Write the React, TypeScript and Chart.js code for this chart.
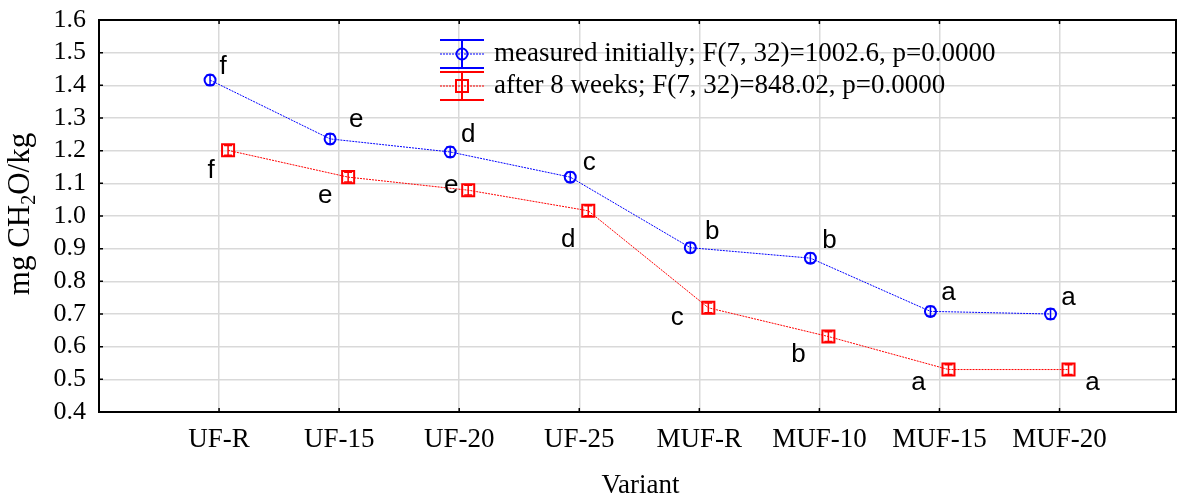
import React, { useEffect, useRef } from 'react';
import { Chart, registerables } from 'chart.js';

Chart.register(...registerables);

const categories = ['UF-R', 'UF-15', 'UF-20', 'UF-25', 'MUF-R', 'MUF-10', 'MUF-15', 'MUF-20'];
const initialValues = [1.416, 1.236, 1.196, 1.119, 0.903, 0.871, 0.708, 0.700];
const initialErrors = [0.015, 0.015, 0.015, 0.015, 0.015, 0.015, 0.015, 0.015];
const afterValues = [1.201, 1.119, 1.079, 1.016, 0.719, 0.631, 0.530, 0.530];
const afterErrors = [0.015, 0.015, 0.015, 0.015, 0.015, 0.015, 0.015, 0.015];
const initialLetters = ['f', 'e', 'd', 'c', 'b', 'b', 'a', 'a'];
const afterLetters = ['f', 'e', 'e', 'd', 'c', 'b', 'a', 'a'];
const legendLabels = [
  'measured initially; F(7, 32)=1002.6, p=0.0000',
  'after 8 weeks; F(7, 32)=848.02, p=0.0000',
];
const yMin = 0.4;
const yMax = 1.6;
const yStep = 0.1;
const xTitle = 'Variant';

const BLUE = '#0000ff';
const RED = '#ff0000';
const SERIF = '"Liberation Serif", "Times New Roman", serif';
const SANS = '"Liberation Sans", Arial, sans-serif';
const DODGE = 0.075;

// letter label offsets (px) relative to each marker
const initialLetterOffsets = [[13, -13], [26, -19], [18, -17], [19, -14], [22, -16], [19, -17], [18, -19], [18, -16]];
const afterLetterOffsets = [[-17, 20], [-23, 19], [-17, -4], [-20, 29], [-31, 10], [-30, 18], [-30, 13], [24, 13]];

const overlay = {
  id: 'overlay',
  afterDatasetsDraw(chart: any) {
    const { ctx, chartArea: a, scales } = chart;
    const x = scales.x;
    const y = scales.y;
    ctx.save();

    // error bars
    const errs = [initialErrors, afterErrors];
    chart.data.datasets.forEach((ds: any, di: number) => {
      const meta = chart.getDatasetMeta(di);
      meta.data.forEach((pt: any, i: number) => {
        const v = ds.data[i].y;
        const t = y.getPixelForValue(v + errs[di][i]);
        const b = y.getPixelForValue(v - errs[di][i]);
        ctx.strokeStyle = ds.borderColor;
        ctx.lineWidth = 1.5;
        ctx.beginPath();
        ctx.moveTo(pt.x, t);
        ctx.lineTo(pt.x, b);
        ctx.moveTo(pt.x - 4, t);
        ctx.lineTo(pt.x + 4, t);
        ctx.moveTo(pt.x - 4, b);
        ctx.lineTo(pt.x + 4, b);
        ctx.stroke();
      });
    });

    // letters
    ctx.fillStyle = '#000';
    ctx.font = `26px ${SANS}`;
    ctx.textAlign = 'center';
    ctx.textBaseline = 'middle';
    const letters = [initialLetters, afterLetters];
    const offs = [initialLetterOffsets, afterLetterOffsets];
    [0, 1].forEach((di) => {
      const meta = chart.getDatasetMeta(di);
      meta.data.forEach((pt: any, i: number) => {
        ctx.fillText(letters[di][i], pt.x + offs[di][i][0], pt.y + offs[di][i][1]);
      });
    });

    // frame
    ctx.strokeStyle = '#000';
    ctx.lineWidth = 2;
    ctx.strokeRect(a.left, a.top, a.right - a.left, a.bottom - a.top);
    ctx.lineWidth = 1.5;
    ctx.beginPath();
    categories.forEach((_, i) => {
      const px = x.getPixelForValue(i);
      ctx.moveTo(px, a.bottom);
      ctx.lineTo(px, a.bottom - 4);
      ctx.moveTo(px, a.top);
      ctx.lineTo(px, a.top + 4);
    });
    for (let v = yMin; v <= yMax + 1e-9; v += yStep) {
      const py = y.getPixelForValue(v);
      ctx.moveTo(a.left, py);
      ctx.lineTo(a.left + 4, py);
      ctx.moveTo(a.right, py);
      ctx.lineTo(a.right - 4, py);
    }
    ctx.stroke();

    // legend
    const colors = [BLUE, RED];
    const rows = [54, 86];
    const sx0 = 440;
    const sx1 = 484;
    const sxc = 462;
    rows.forEach((ry, k) => {
      const c = colors[k];
      ctx.strokeStyle = c;
      ctx.lineWidth = 2;
      ctx.setLineDash([]);
      ctx.beginPath();
      ctx.moveTo(sx0, ry - 14);
      ctx.lineTo(sx1, ry - 14);
      ctx.moveTo(sx0, ry + 14);
      ctx.lineTo(sx1, ry + 14);
      ctx.moveTo(sxc, ry - 14);
      ctx.lineTo(sxc, ry + 14);
      ctx.stroke();
      ctx.lineWidth = 1;
      ctx.setLineDash([2, 1]);
      ctx.beginPath();
      ctx.moveTo(sx0, ry);
      ctx.lineTo(sx1, ry);
      ctx.stroke();
      ctx.setLineDash([]);
      ctx.lineWidth = 2;
      ctx.beginPath();
      if (k === 0) {
        ctx.arc(sxc, ry, 5.5, 0, Math.PI * 2);
      } else {
        ctx.rect(sxc - 6, ry - 6, 12, 12);
      }
      ctx.stroke();
      ctx.fillStyle = '#000';
      ctx.font = `27px ${SERIF}`;
      ctx.textAlign = 'left';
      ctx.textBaseline = 'middle';
      ctx.fillText(legendLabels[k], 494, ry);
    });

    // axis titles
    ctx.fillStyle = '#000';
    ctx.font = `27px ${SERIF}`;
    ctx.textAlign = 'center';
    ctx.textBaseline = 'middle';
    ctx.fillText(xTitle, (a.left + a.right) / 2 + 3, 486);

    // y title with subscript
    ctx.save();
    ctx.translate(22, 214);
    ctx.rotate(-Math.PI / 2);
    const p1 = 'mg CH';
    const p2 = '2';
    const p3 = 'O/kg';
    const big = `31px ${SERIF}`;
    const small = `20px ${SERIF}`;
    ctx.font = big;
    const w1 = ctx.measureText(p1).width;
    const w3 = ctx.measureText(p3).width;
    ctx.font = small;
    const w2 = ctx.measureText(p2).width;
    const total = w1 + w2 + w3;
    let cx = -total / 2;
    ctx.textAlign = 'left';
    ctx.textBaseline = 'alphabetic';
    ctx.font = big;
    ctx.fillText(p1, cx, 7);
    cx += w1;
    ctx.font = small;
    ctx.fillText(p2, cx, 13);
    cx += w2;
    ctx.font = big;
    ctx.fillText(p3, cx, 7);
    ctx.restore();

    ctx.restore();
  },
};

export default function App() {
  const ref = useRef<HTMLCanvasElement | null>(null);
  useEffect(() => {
    if (!ref.current) return;
    const chart = new Chart(ref.current, {
      type: 'line',
      data: {
        datasets: [
          {
            label: legendLabels[0],
            data: initialValues.map((v, i) => ({ x: i - DODGE, y: v })),
            borderColor: BLUE,
            backgroundColor: 'rgba(0,0,0,0)',
            borderWidth: 1,
            borderDash: [2, 1],
            pointStyle: 'circle',
            pointRadius: 5.5,
            pointBorderWidth: 2,
            pointBorderColor: BLUE,
            pointBackgroundColor: 'rgba(0,0,0,0)',
            tension: 0,
          },
          {
            label: legendLabels[1],
            data: afterValues.map((v, i) => ({ x: i + DODGE, y: v })),
            borderColor: RED,
            backgroundColor: 'rgba(0,0,0,0)',
            borderWidth: 1,
            borderDash: [2, 1],
            pointStyle: 'rect',
            pointRadius: 8.5,
            pointBorderWidth: 2,
            pointBorderColor: RED,
            pointBackgroundColor: 'rgba(0,0,0,0)',
            tension: 0,
          },
        ],
      },
      options: {
        animation: false,
        responsive: false,
        maintainAspectRatio: false,
        devicePixelRatio: 1,
        layout: { autoPadding: false, padding: { top: 20, right: 4, left: 0, bottom: 0 } },
        plugins: { legend: { display: false }, tooltip: { enabled: false } },
        scales: {
          x: {
            type: 'linear',
            min: -1,
            max: 7.97,
            afterBuildTicks: (scale: any) => {
              scale.ticks = categories.map((_, i) => ({ value: i }));
            },
            afterFit: (scale: any) => {
              scale.height = 88;
              scale.paddingLeft = 0;
              scale.paddingRight = 0;
            },
            ticks: {
              autoSkip: false,
              maxRotation: 0,
              padding: 12,
              color: '#000',
              font: { family: SERIF, size: 27 },
              callback: (v: any) => categories[Math.round(Number(v))] ?? '',
            },
            grid: { color: '#d9d9d9', lineWidth: 1.5, drawTicks: false },
            border: { display: false },
          },
          y: {
            type: 'linear',
            min: yMin,
            max: yMax,
            afterBuildTicks: (scale: any) => {
              const t: any[] = [];
              for (let k = 0; k <= Math.round((yMax - yMin) / yStep); k++) {
                t.push({ value: Math.round((yMin + k * yStep) * 10) / 10 });
              }
              scale.ticks = t;
            },
            afterFit: (scale: any) => {
              scale.width = 99;
              scale.paddingTop = 0;
              scale.paddingBottom = 0;
            },
            ticks: {
              autoSkip: false,
              padding: 13,
              color: '#000',
              font: { family: SERIF, size: 26, lineHeight: 1 },
              callback: (v: any) => Number(v).toFixed(1),
            },
            grid: { color: '#d9d9d9', lineWidth: 1.5, drawTicks: false },
            border: { display: false },
          },
        },
      },
      plugins: [overlay],
    });
    return () => chart.destroy();
  }, []);
  return (
    <div style={{ position: 'fixed', left: 0, top: 0, width: 1180, height: 500, background: '#fff' }}>
      <canvas ref={ref} width={1180} height={500} style={{ width: 1180, height: 500, display: 'block' }} />
    </div>
  );
}
